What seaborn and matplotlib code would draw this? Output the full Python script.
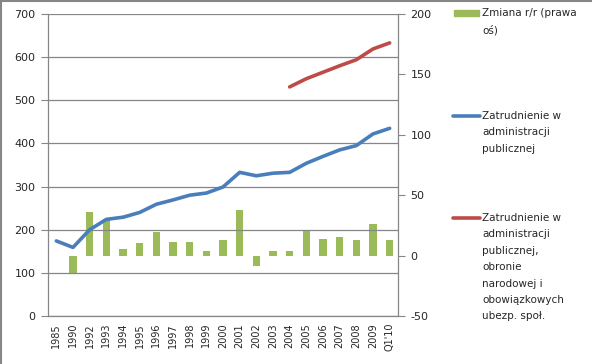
import numpy as np
import pandas as pd
import matplotlib
matplotlib.use("Agg")
import matplotlib.pyplot as plt
from matplotlib.lines import Line2D
from matplotlib.patches import Rectangle
import seaborn as sns

# --- data ---
labels = ["1985", "1990", "1992", "1993", "1994", "1995", "1996", "1997", "1998",
          "1999", "2000", "2001", "2002", "2003", "2004", "2005", "2006", "2007",
          "2008", "2009", "Q1'10"]
admin = [174, 159, 200, 224, 229, 240, 259, 269, 280, 285, 299, 333, 325, 331,
         333, 354, 370, 385, 395, 422, 435]
admin_wide = [np.nan] * 14 + [531, 550, 565, 580, 594, 619, 633]
change_yoy = [np.nan, -14.3, 35.9, 30.2, 5.8, 10.2, 19.3, 11.0, 11.0, 4.1, 13.2,
              37.5, -8.3, 4.1, 4.1, 20.1, 14.1, 15.6, 13.2, 25.9, 13.2]

df = pd.DataFrame({"label": labels, "idx": np.arange(len(labels)),
                   "admin": admin, "admin_wide": admin_wide, "change": change_yoy})

GREEN = "#9BBB59"
BLUE = "#4A7EBB"
RED = "#BE4B48"
GRID = "#868686"

sns.set_style("white")
plt.rcParams["font.family"] = ["DejaVu Sans"]
plt.rcParams["axes.unicode_minus"] = False

fig = plt.figure(figsize=(5.92, 3.64), dpi=100)
ax = fig.add_axes([48 / 592, 1 - 316 / 364, (398 - 48) / 592, (316 - 14) / 364])
ax2 = ax.twinx()

# bars on the right axis (behind the lines)
sns.barplot(data=df, x="label", y="change", order=labels, color=GREEN,
            width=0.44, saturation=1, ax=ax2, errorbar=None, linewidth=0)
ax2.set_ylim(-50, 200)
ax2.set_yticks(range(-50, 201, 50))

# lines on the left axis
sns.lineplot(data=df, x="idx", y="admin", color=BLUE, lw=2.6, ax=ax)
sns.lineplot(data=df.dropna(subset=["admin_wide"]), x="idx", y="admin_wide",
             color=RED, lw=2.6, ax=ax)
ax.set_ylim(0, 700)
ax.set_yticks(range(0, 701, 100))
ax.set_xlim(-0.5, len(labels) - 0.5)
ax2.set_xlim(-0.5, len(labels) - 0.5)

ax.set_zorder(ax2.get_zorder() + 1)
ax.patch.set_visible(False)
ax.yaxis.grid(True, color=GRID, lw=0.9)
ax.set_axisbelow(True)
for a in (ax, ax2):
    a.set_xlabel("")
    a.set_ylabel("")

# x ticks: labels at centers, marks at boundaries
ax.set_xticks(df["idx"])
ax.set_xticklabels(labels, rotation=90, fontsize=7)
ax.set_xticks(np.arange(-0.5, len(labels) + 0.5, 1), minor=True)
ax.tick_params(axis="x", which="major", length=0, pad=5)
ax.tick_params(axis="x", which="minor", length=4, color=GRID, direction="out")
ax2.tick_params(axis="x", which="both", length=0, labelbottom=False)

ax.tick_params(axis="y", length=5, color=GRID, labelsize=8, pad=4, direction="out")
ax2.tick_params(axis="y", length=5, color=GRID, labelsize=8, pad=4, direction="out")

for a in (ax, ax2):
    for s in a.spines.values():
        s.set_visible(False)
ax.spines["left"].set_visible(True)
ax.spines["bottom"].set_visible(True)
ax2.spines["right"].set_visible(True)
for s in (ax.spines["left"], ax.spines["bottom"], ax2.spines["right"]):
    s.set_color(GRID)
    s.set_linewidth(0.9)

# legend drawn on the right side, entries aligned on their first text line
def fx(px):
    return px / 592

def fy(py):
    return 1 - py / 364

fig.add_artist(Rectangle((fx(454), fy(16)), fx(25), 6 / 364, color=GREEN))
fig.add_artist(Line2D([fx(453), fx(480)], [fy(116), fy(116)], color=BLUE, lw=2.6))
fig.add_artist(Line2D([fx(453), fx(480)], [fy(218), fy(218)], color=RED, lw=2.6))
legend_texts = [
    (8, "Zmiana r/r (prawa\noś)"),
    (111, "Zatrudnienie w\nadministracji\npublicznej"),
    (213, "Zatrudnienie w\nadministracji\npublicznej,\nobronie\nnarodowej i\nobowiązkowych\nubezp. społ."),
]
for py, txt in legend_texts:
    fig.text(fx(482), fy(py), txt, fontsize=7.5, va="top", ha="left",
             linespacing=1.8)

# outer chart frame (top and left edges are visible in the crop)
fig.add_artist(Line2D([0.001, 0.001], [0, 1], color=GRID, lw=1.5))
fig.add_artist(Line2D([0, 1], [0.998, 0.998], color=GRID, lw=1.5))

fig.savefig("out.png", dpi=100)
